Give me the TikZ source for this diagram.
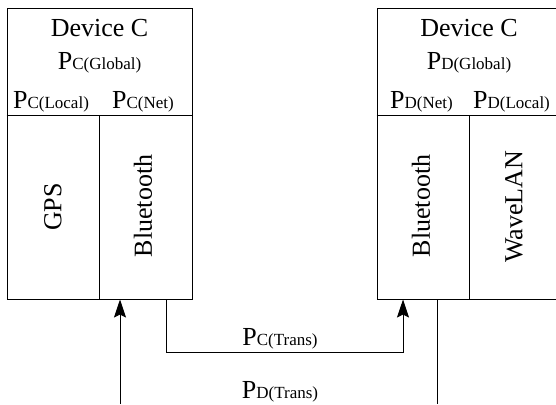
\documentclass[tikz,border=0pt]{standalone}
\usepackage{fontspec}
\setmainfont{Liberation Serif}
\usetikzlibrary{arrows.meta}
\newcommand\Plab[2]{{\fontsize{26}{30}\selectfont P}{\fontsize{17}{20}\selectfont #1(#2)}}
\begin{document}
\begin{tikzpicture}[x=1pt,y=-1pt,
 box/.style={draw, line width=1pt, minimum width=185pt, minimum height=290pt, inner sep=0pt},
 big/.style={font=\fontsize{26}{30}\selectfont, inner sep=0pt, anchor=base},
 lab/.style={inner sep=0pt, anchor=base},
 vert/.style={font=\fontsize{26}{30}\selectfont, rotate=90, inner sep=0pt},
 conn/.style={line width=0.9pt},
 arr/.style={line width=0.9pt, -{Stealth[length=18pt,width=12pt,inset=3pt]}}]
\useasboundingbox (0,0) rectangle (556,404);
\clip (0,0) rectangle (556,404);
\node[box] (devC) at (99.5,154) {};
\node[box] (devD) at (469.5,154) {};
\draw[conn] (devC.west |- 0,115) -- (devC.east |- 0,115);
\draw[conn] (devC.center |- 0,115) -- (devC.south);
\draw[conn] (devD.west |- 0,115) -- (devD.east |- 0,115);
\draw[conn] (devD.center |- 0,115) -- (devD.south);
\node[big] (titC) at (99.5,37) {Device C};
\node[lab] (gC) at (99.5,69) {\Plab{C}{Global}};
\node[lab] (lC) at (51,108) {\Plab{C}{Local}};
\node[lab] (nC) at (143,108) {\Plab{C}{Net}};
\node[big] (titD) at (469,37) {Device C};
\node[lab] (gD) at (469,69) {\Plab{D}{Global}};
\node[lab] (nD) at (421.5,108) {\Plab{D}{Net}};
\node[lab] (lD) at (511.5,108) {\Plab{D}{Local}};
\node[vert] (gps) at (53,207) {GPS};
\node[vert] (btC) at (143,206) {Bluetooth};
\node[vert] (btD) at (421,206) {Bluetooth};
\node[vert] (wl) at (514,207) {WaveLAN};
\coordinate (inD) at (120,404);
\draw[arr] (inD) -- (inD |- devC.south);
\coordinate (bend1) at (166,352);
\coordinate (bend2) at (403,352);
\draw[arr] (bend1 |- devC.south) -- (bend1) -- (bend2) -- (bend2 |- devD.south);
\coordinate (outD) at (437,404);
\draw[conn] (outD |- devD.south) -- (outD);
\node[lab] (tC) at (280,345) {\Plab{C}{Trans}};
\node[lab] (tD) at (280,398) {\Plab{D}{Trans}};
\end{tikzpicture}
\end{document}
